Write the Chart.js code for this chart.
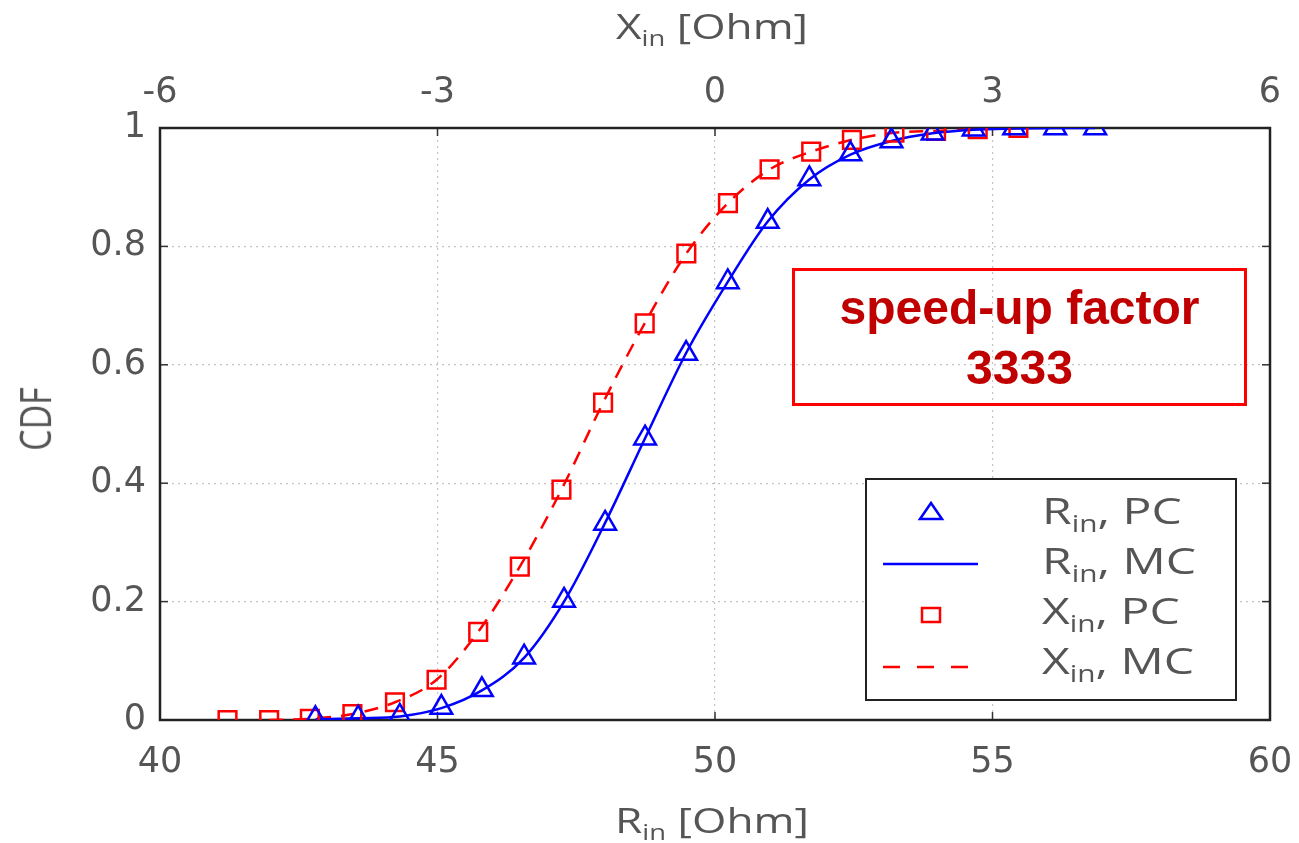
<!DOCTYPE html>
<html>
<head>
<meta charset="utf-8">
<script src="https://cdn.jsdelivr.net/npm/chart.js@4.4.0/dist/chart.umd.min.js"></script>
<style>
  body { margin: 0; background: #fff; }
  #wrap { position: relative; width: 1299px; height: 843px; font-family: "Open Sans", sans-serif; }
  #wrap > canvas { position: absolute; left: 0; top: 0; }
  .lbl { position: absolute; color: #555; white-space: nowrap; line-height: 1; }
  .titulo { font-size: 34px; transform: translateX(-50%) scaleX(1.3); }
  sub { font-size: 62%; vertical-align: -0.35em; line-height: 0; }
  #legend { position: absolute; left: 865px; top: 478px; width: 372px; height: 223px; border: 2.5px solid #222; box-sizing: border-box; background: #fff; }
  #legend canvas { position: absolute; left: 0; top: 0; }
  #legend .row { position: absolute; left: 175px; font-size: 37px; color: #555; line-height: 40px; white-space: nowrap;
                 transform: scaleX(1.3); transform-origin: left center; }
  #note { position: absolute; left: 792px; top: 268px; width: 455px; height: 138px; border: 3px solid #f00; box-sizing: border-box;
          font-family: "Liberation Sans", Arial, sans-serif; font-weight: bold; color: #c00000; font-size: 48px; text-align: center;
          line-height: 60px; padding-top: 7px; }
</style>
</head>
<body>
<div id="wrap">
  <canvas id="grafico" width="1299" height="843"></canvas>
  <div class="lbl titulo" style="left:712px; top:9px;">X<sub>in</sub> [Ohm]</div>
  <div class="lbl titulo" style="left:712px; top:803px;">R<sub>in</sub> [Ohm]</div>
  <div class="lbl" style="left:34px; top:419px; font-size:34px; transform: translate(-50%, -50%) scaleX(1.3) rotate(-90deg);">CDF</div>
  <div id="note">speed-up factor<br>3333</div>
  <div id="legend">
    <canvas id="legendIcons" width="372" height="223"></canvas>
    <div class="row" style="top:10px;">R<sub>in</sub>, PC</div>
    <div class="row" style="top:60px;">R<sub>in</sub>, MC</div>
    <div class="row" style="top:110px;">X<sub>in</sub>, PC</div>
    <div class="row" style="top:160px;">X<sub>in</sub>, MC</div>
  </div>
</div>
<script>
// R_in, PC (triangulos) - eixo de baixo
const rinPC_x = [42.80, 43.57, 44.32, 45.07, 45.80, 46.56, 47.28, 48.02, 48.74, 49.48, 50.23, 50.95, 51.70, 52.44, 53.18, 53.92, 54.66, 55.39, 56.13, 56.85];
const rinPC_y = [0.002, 0.003, 0.006, 0.021, 0.051, 0.106, 0.202, 0.332, 0.476, 0.619, 0.740, 0.842, 0.914, 0.956, 0.978, 0.991, 0.998, 1.0, 1.0, 1.0];

// R_in, MC (linha cheia)
const rinMC_x = [42.80, 43.57, 44.32, 45.07, 45.80, 46.56, 47.28, 48.02, 48.74, 49.48, 50.23, 50.95, 51.70, 52.44, 53.18, 53.92, 54.66, 55.39, 56.13, 56.85];
const rinMC_y = [0.001, 0.003, 0.006, 0.020, 0.050, 0.105, 0.200, 0.333, 0.476, 0.620, 0.740, 0.842, 0.913, 0.955, 0.978, 0.991, 0.997, 0.999, 1.0, 1.0];

// X_in, PC (quadrados) - eixo de cima
const xinPC_x = [-5.27, -4.82, -4.38, -3.92, -3.46, -3.01, -2.56, -2.11, -1.66, -1.21, -0.76, -0.31, 0.14, 0.59, 1.04, 1.48, 1.94, 2.39, 2.84, 3.28];
const xinPC_y = [0.0, 0.0, 0.002, 0.010, 0.030, 0.068, 0.149, 0.259, 0.389, 0.536, 0.670, 0.788, 0.873, 0.930, 0.960, 0.980, 0.992, 0.995, 0.998, 1.0];

// X_in, MC (tracejada)
const xinMC_x = [-4.82, -4.38, -3.92, -3.46, -3.01, -2.56, -2.11, -1.66, -1.21, -0.76, -0.31, 0.14, 0.59, 1.04, 1.48, 1.94, 2.39, 2.84, 3.28, 3.40];
const xinMC_y = [0.0, 0.002, 0.010, 0.030, 0.068, 0.149, 0.259, 0.389, 0.536, 0.670, 0.788, 0.873, 0.930, 0.960, 0.980, 0.992, 0.995, 0.998, 1.0, 1.0];

const ticksY = [0, 0.2, 0.4, 0.6, 0.8, 1];

const azul = '#0000ff';
const vermelho = '#ff0000';

function pontos(xs, ys) {
    return xs.map((x, i) => ({ x: x, y: ys[i] }));
}

const moldura = {
    id: 'moldura',
    beforeDatasetsDraw(chart) {
        const a = chart.chartArea;
        const ctx = chart.ctx;
        ctx.save();
        ctx.strokeStyle = '#333';
        ctx.lineWidth = 1.5;
        // pequenos ticks para dentro
        chart.scales.y.ticks.forEach(t => {
            const py = chart.scales.y.getPixelForValue(t.value);
            ctx.beginPath(); ctx.moveTo(a.left, py); ctx.lineTo(a.left + 8, py); ctx.stroke();
            ctx.beginPath(); ctx.moveTo(a.right, py); ctx.lineTo(a.right - 8, py); ctx.stroke();
        });
        chart.scales.x.ticks.forEach(t => {
            const px = chart.scales.x.getPixelForValue(t.value);
            ctx.beginPath(); ctx.moveTo(px, a.bottom); ctx.lineTo(px, a.bottom - 8); ctx.stroke();
            ctx.beginPath(); ctx.moveTo(px, a.top); ctx.lineTo(px, a.top + 8); ctx.stroke();
        });
        ctx.lineWidth = 2.5;
        ctx.strokeStyle = '#222';
        ctx.strokeRect(a.left, a.top, a.right - a.left, a.bottom - a.top);
        ctx.restore();
    }
};

const fonteTicks = { family: '"DejaVu Sans", sans-serif', size: 35 };
const corTicks = '#555';

function semPadding(s, altura) {
    s.height = altura;
    s.paddingLeft = 0;
    s.paddingRight = 0;
}

function criarGrafico() {
    const ctx = document.getElementById('grafico').getContext('2d');
    window.grafico = new Chart(ctx, {
        type: 'scatter',
        data: {
            datasets: [
                {
                    label: 'Rin, PC', data: pontos(rinPC_x, rinPC_y), xAxisID: 'x',
                    showLine: false, pointStyle: 'triangle', pointRadius: 12.5,
                    pointBorderColor: azul, pointBackgroundColor: 'rgba(0,0,0,0)', pointBorderWidth: 2.5, order: 1
                },
                {
                    label: 'Rin, MC', data: pontos(rinMC_x, rinMC_y), xAxisID: 'x',
                    showLine: true, pointRadius: 0, borderColor: azul, borderWidth: 2.5,
                    cubicInterpolationMode: 'monotone', order: 3
                },
                {
                    label: 'Xin, PC', data: pontos(xinPC_x, xinPC_y), xAxisID: 'x2',
                    showLine: false, pointStyle: 'rect', pointRadius: 12.5,
                    pointBorderColor: vermelho, pointBackgroundColor: 'rgba(0,0,0,0)', pointBorderWidth: 2.5, order: 2
                },
                {
                    label: 'Xin, MC', data: pontos(xinMC_x, xinMC_y), xAxisID: 'x2',
                    showLine: true, pointRadius: 0, borderColor: vermelho, borderWidth: 2.5, borderDash: [14, 10],
                    cubicInterpolationMode: 'monotone', order: 4
                }
            ]
        },
        options: {
            responsive: false,
            animation: false,
            layout: { padding: { left: 0, right: 29, top: 0, bottom: 0 } },
            plugins: { legend: { display: false }, tooltip: { enabled: false } },
            scales: {
                x: {
                    type: 'linear', position: 'bottom', min: 40, max: 60,
                    ticks: { stepSize: 5, font: fonteTicks, color: corTicks, padding: 22, maxRotation: 0 },
                    grid: { color: '#c4c4c4', lineWidth: 1.2, drawTicks: false },
                    border: { display: false, dash: [2, 4] },
                    afterFit: s => semPadding(s, 123)
                },
                x2: {
                    type: 'linear', position: 'top', min: -6, max: 6,
                    ticks: { stepSize: 3, font: fonteTicks, color: corTicks, padding: 14, maxRotation: 0 },
                    grid: { display: false, drawTicks: false },
                    border: { display: false },
                    afterFit: s => semPadding(s, 128)
                },
                y: {
                    min: 0, max: 1,
                    afterBuildTicks: s => { s.ticks = ticksY.map(v => ({ value: v })); },
                    ticks: { font: fonteTicks, color: corTicks, padding: 14, callback: v => String(v) },
                    grid: { color: '#c4c4c4', lineWidth: 1.2, drawTicks: false },
                    border: { display: false, dash: [2, 4] },
                    afterFit: s => { s.width = 160; s.paddingTop = 0; s.paddingBottom = 0; }
                }
            }
        },
        plugins: [moldura]
    });
}

function desenharLegenda() {
    const ctx = document.getElementById('legendIcons').getContext('2d');
    ctx.lineWidth = 2.5;
    // triangulo
    ctx.strokeStyle = azul;
    ctx.beginPath();
    ctx.moveTo(64, 23); ctx.lineTo(53, 39); ctx.lineTo(75, 39); ctx.closePath(); ctx.stroke();
    // linha cheia
    ctx.beginPath(); ctx.moveTo(16, 84); ctx.lineTo(111, 84); ctx.stroke();
    // quadrado
    ctx.strokeStyle = vermelho;
    ctx.strokeRect(55, 128, 18, 14);
    // tracejada
    ctx.setLineDash([17, 17]);
    ctx.beginPath(); ctx.moveTo(16, 187); ctx.lineTo(101, 187); ctx.stroke();
}

window.addEventListener('DOMContentLoaded', () => {
    criarGrafico();
    desenharLegenda();
});
</script>
</body>
</html>
